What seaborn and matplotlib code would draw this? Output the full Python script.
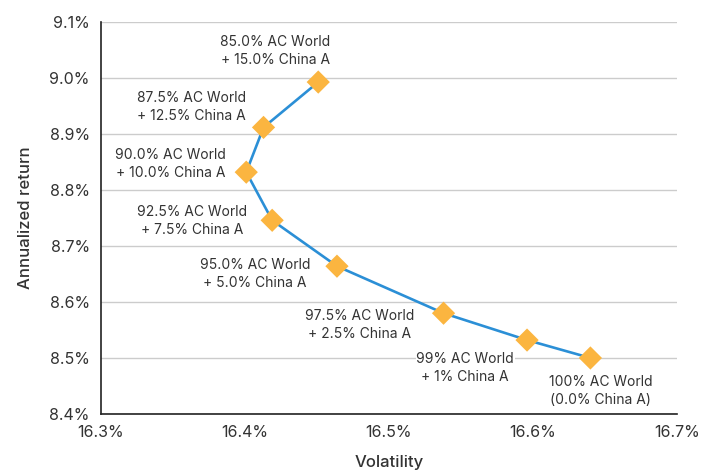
import numpy as np
import pandas as pd
import matplotlib
matplotlib.use("Agg")
import matplotlib.pyplot as plt
from matplotlib.ticker import FuncFormatter
import seaborn as sns

# portfolio mixes along the frontier
mix_labels = [
    "85.0% AC World\n+ 15.0% China A",
    "87.5% AC World\n+ 12.5% China A",
    "90.0% AC World\n+ 10.0% China A",
    "92.5% AC World\n+ 7.5% China A",
    "95.0% AC World\n+ 5.0% China A",
    "97.5% AC World\n+ 2.5% China A",
    "99% AC World\n+ 1% China A",
    "100% AC World\n(0.0% China A)",
]
volatility = [16.451, 16.413, 16.401, 16.419, 16.464, 16.538, 16.596, 16.640]
ann_return = [8.993, 8.912, 8.832, 8.746, 8.664, 8.580, 8.532, 8.500]

# where each label sits relative to its marker (pixels)
label_offsets = [(-43, 31), (-72, 20), (-76, 8), (-80, -1),
                 (-82, -8), (-84, -12), (-62, -28), (10, -33)]

df = pd.DataFrame({"Volatility": volatility, "Return": ann_return, "Mix": mix_labels})

sns.set_style("white")
plt.rcParams["font.family"] = ["Inter", "DejaVu Sans"]
text_col = "#333333"

fig = plt.figure(figsize=(7.05, 4.72), dpi=100)
ax = fig.add_axes([0.143, 0.123, 0.817, 0.830])

sns.lineplot(data=df, x="Volatility", y="Return", sort=False, ax=ax,
             color="#2b8fd6", linewidth=1.9, zorder=2)
sns.scatterplot(data=df, x="Volatility", y="Return", ax=ax, marker="D",
                s=140, color="#fbb540", edgecolor="none", zorder=3)

for (x, y, lab), (dx, dy) in zip(zip(volatility, ann_return, mix_labels), label_offsets):
    ax.annotate(lab, (x, y), xytext=(dx, dy), textcoords="offset pixels",
                ha="center", va="center", multialignment="center",
                fontsize=10, color=text_col, linespacing=1.35,
                bbox=dict(facecolor="white", edgecolor="none", pad=0.5),
                zorder=4)

ax.set_xlim(16.3, 16.7)
ax.set_ylim(8.4, 9.1)
ax.set_xticks(np.arange(16.3, 16.71, 0.1))
ax.set_yticks(np.arange(8.4, 9.11, 0.1))
ax.xaxis.set_major_formatter(FuncFormatter(lambda v, p: f"{v:.1f}%"))
ax.yaxis.set_major_formatter(FuncFormatter(lambda v, p: f"{v:.1f}%"))
ax.tick_params(axis="both", labelsize=11.5, colors=text_col, length=0, pad=8)

ax.yaxis.grid(True, color="#cccccc", linewidth=1)
ax.xaxis.grid(False)
ax.set_axisbelow(True)
for s in ["top", "right"]:
    ax.spines[s].set_visible(False)
for s in ["left", "bottom"]:
    ax.spines[s].set_color("#222222")
    ax.spines[s].set_linewidth(1.2)

ax.set_xlabel("Volatility", fontsize=12, color=text_col, labelpad=11, fontweight="medium")
ax.set_ylabel("Annualized return", fontsize=12, color=text_col, labelpad=12, fontweight="medium")

fig.savefig("out.png", dpi=100)
